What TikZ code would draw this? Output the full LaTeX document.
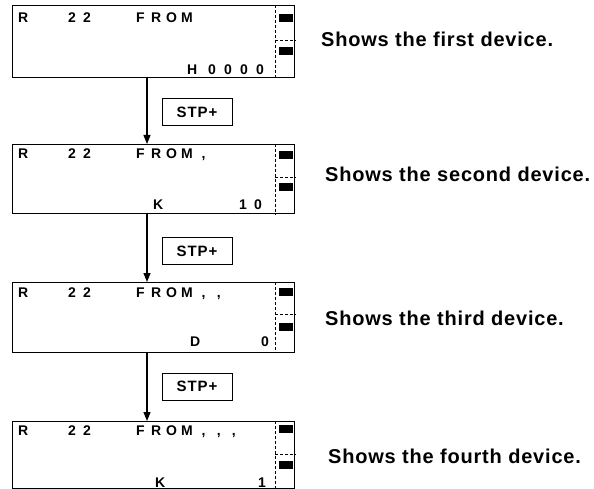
\documentclass[tikz,border=0pt]{standalone}
\usepackage{fontspec}
\setmainfont{Liberation Sans}
\newfontfamily\capfont{Liberation Sans}[LetterSpace=4]
\newfontfamily\keyfont{Liberation Sans}[LetterSpace=6]
\usetikzlibrary{arrows.meta}
\newcommand\lcdc[1]{\makebox[15pt][l]{#1}}
\newcommand\lcdm[1]{\makebox[15pt][c]{#1}}
\newcommand\lcdd[1]{\makebox[16pt][l]{#1}}
\tikzset{
  disp/.style={draw, line width=1.3pt, minimum width=282pt, anchor=north west, inner sep=0pt},
  dsh/.style={line width=0.9pt, dash pattern=on 3pt off 2pt},
  lcd/.style={anchor=base west, inner sep=0pt, font=\bfseries\fontsize{14}{16}\selectfont},
  stp/.style={draw, line width=1pt, minimum width=70pt, minimum height=27pt, inner sep=0pt, font=\keyfont\bfseries\fontsize{15}{17}\selectfont},
  captext/.style={anchor=base west, inner sep=0pt, font=\capfont\bfseries\fontsize{20}{24}\selectfont},
  conn/.style={line width=1.2pt, -{Triangle[length=9pt,width=7pt]}}
}
\begin{document}
\begin{tikzpicture}[x=1pt,y=-1pt]
\useasboundingbox (0,0) rectangle (594,489);
\coordinate (cx) at (147,0);
% displays
\foreach \n/\t/\h/\a/\b/\c in {1/5/72/9/35/42,2/144/69/7/33/39,3/282/70/6/32/41,4/421/67/4/33/40}{
  \node[disp, minimum height=\h pt] (d\n) at (12,\t) {};
  \draw[dsh] ([xshift=263pt]d\n.north west) -- ([xshift=263pt]d\n.south west);
  \draw[dsh] ([xshift=263pt,yshift=-\b pt]d\n.north west) -- ([yshift=-\b pt]d\n.north east);
  \fill ([xshift=267pt,yshift=-\a pt]d\n.north west) rectangle ([xshift=-2pt,yshift=-\a pt-8pt]d\n.north east);
  \fill ([xshift=267pt,yshift=-\c pt]d\n.north west) rectangle ([xshift=-2pt,yshift=-\c pt-8pt]d\n.north east);
}
% top rows
\node[lcd] (r1) at (18,23) {\makebox[50pt][l]{R}\lcdc{2}\lcdc{2}\hspace{38pt}\lcdc{F}\lcdc{R}\lcdc{O}\lcdc{M}};
\node[lcd] (r2) at (18,159) {\makebox[50pt][l]{R}\lcdc{2}\lcdc{2}\hspace{38pt}\lcdc{F}\lcdc{R}\lcdc{O}\lcdc{M}\lcdm{,}};
\node[lcd] (r3) at (18,297) {\makebox[50pt][l]{R}\lcdc{2}\lcdc{2}\hspace{38pt}\lcdc{F}\lcdc{R}\lcdc{O}\lcdc{M}\lcdm{,}\lcdm{,}};
\node[lcd] (r4) at (18,435) {\makebox[50pt][l]{R}\lcdc{2}\lcdc{2}\hspace{38pt}\lcdc{F}\lcdc{R}\lcdc{O}\lcdc{M}\lcdm{,}\lcdm{,}\lcdm{,}};
% bottom rows
\node[lcd] (b1) at (187,75) {\makebox[21pt][l]{H}\lcdd{0}\lcdd{0}\lcdd{0}0};
\node[lcd] (b2k) at (153,209) {K};
\node[lcd] (b2n) at (239,209) {\lcdc{1}0};
\node[lcd] (b3d) at (190,346) {D};
\node[lcd] (b3n) at (261,346) {0};
\node[lcd] (b4k) at (155,487) {K};
\node[lcd] (b4n) at (258,487) {1};
% key boxes
\node[stp] (s1) at (197,112) {STP+};
\node[stp] (s2) at (197,251) {STP+};
\node[stp] (s3) at (197,386.5) {STP+};
% connectors
\draw[conn] (d1.south -| cx) -- (d2.north -| cx);
\draw[conn] (d2.south -| cx) -- (d3.north -| cx);
\draw[conn] (d3.south -| cx) -- (d4.north -| cx);
% captions
\node[captext] (t1) at (321,47) {Shows the first device.};
\node[captext] (t2) at (325,182) {Shows the second device.};
\node[captext] (t3) at (325,325) {Shows the third device.};
\node[captext] (t4) at (328,463) {Shows the fourth device.};
\end{tikzpicture}
\end{document}
